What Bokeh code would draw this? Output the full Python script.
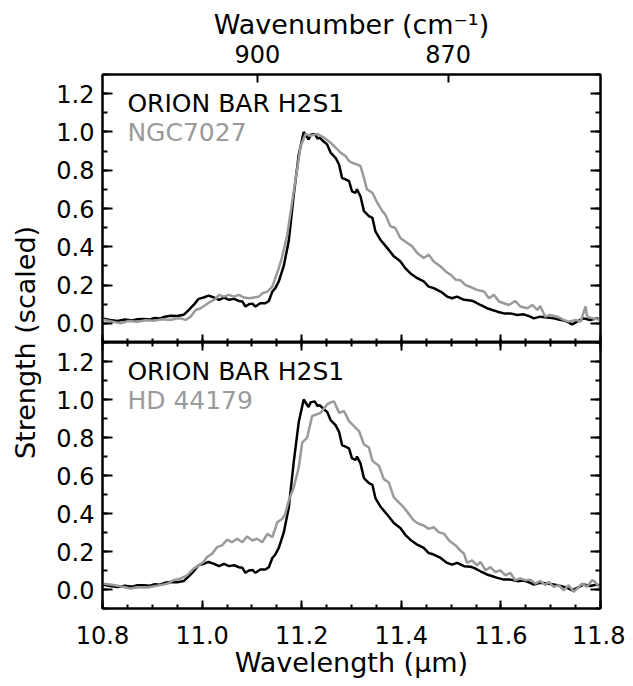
from math import pi
from bokeh.plotting import figure
from bokeh.layouts import row, column
from bokeh.models import (Range1d, LinearAxis, FixedTicker, PrintfTickFormatter,
                          CustomJSTickFormatter, Label)
from bokeh.embed import file_html
from bokeh.resources import INLINE

# ---------------- data ----------------
ORION_WL = [10.800, 10.815, 10.830, 10.845, 10.860, 10.870, 10.883, 10.895, 10.905, 10.915,
            10.925, 10.937, 10.950, 10.963, 10.970, 10.983, 10.993, 11.003, 11.013, 11.024,
            11.034, 11.044, 11.054, 11.064, 11.074, 11.081, 11.087, 11.094, 11.101, 11.107,
            11.117, 11.127, 11.134, 11.141, 11.147, 11.154, 11.164, 11.174, 11.184, 11.194,
            11.204, 11.210, 11.214, 11.218, 11.226, 11.232, 11.236, 11.244, 11.251, 11.258,
            11.268, 11.275, 11.281, 11.288, 11.295, 11.301, 11.308, 11.311, 11.318, 11.325,
            11.335, 11.342, 11.348, 11.358, 11.372, 11.385, 11.398, 11.408, 11.418, 11.432,
            11.445, 11.455, 11.465, 11.479, 11.492, 11.502, 11.512, 11.526, 11.539, 11.546,
            11.559, 11.572, 11.583, 11.593, 11.606, 11.619, 11.633, 11.646, 11.659, 11.666,
            11.679, 11.693, 11.706, 11.720, 11.733, 11.743, 11.753, 11.766, 11.779, 11.793, 11.800]
ORION_S = [0.026, 0.018, 0.013, 0.020, 0.015, 0.022, 0.023, 0.020, 0.028, 0.025,
           0.035, 0.040, 0.038, 0.045, 0.061, 0.096, 0.128, 0.135, 0.145, 0.135,
           0.123, 0.135, 0.123, 0.128, 0.117, 0.114, 0.088, 0.100, 0.103, 0.088,
           0.105, 0.105, 0.117, 0.166, 0.184, 0.219, 0.300, 0.430, 0.670, 0.880,
           1.000, 0.975, 0.960, 0.985, 0.990, 0.965, 0.970, 0.950, 0.935, 0.892,
           0.865, 0.830, 0.760, 0.752, 0.743, 0.690, 0.682, 0.700, 0.664, 0.586,
           0.560, 0.551, 0.481, 0.437, 0.393, 0.350, 0.324, 0.288, 0.262, 0.236,
           0.219, 0.192, 0.184, 0.166, 0.140, 0.131, 0.140, 0.123, 0.120, 0.114,
           0.096, 0.079, 0.070, 0.061, 0.052, 0.052, 0.044, 0.047, 0.035, 0.026,
           0.035, 0.031, 0.026, 0.018, 0.009, -0.005, 0.009, 0.026, 0.018, 0.026, 0.018]

NGC_WL = [10.800, 10.818, 10.836, 10.852, 10.870, 10.887, 10.903, 10.920, 10.937, 10.950,
          10.957, 10.967, 10.977, 10.987, 10.997, 11.007, 11.017, 11.027, 11.034, 11.044,
          11.054, 11.064, 11.074, 11.084, 11.094, 11.104, 11.114, 11.121, 11.131, 11.141,
          11.147, 11.154, 11.160, 11.171, 11.184, 11.198, 11.208, 11.218, 11.231, 11.245,
          11.258, 11.268, 11.278, 11.288, 11.295, 11.301, 11.311, 11.318, 11.325, 11.331,
          11.342, 11.352, 11.362, 11.368, 11.378, 11.388, 11.398, 11.412, 11.422, 11.432,
          11.445, 11.455, 11.465, 11.479, 11.489, 11.499, 11.509, 11.519, 11.529, 11.539,
          11.552, 11.566, 11.576, 11.586, 11.596, 11.606, 11.616, 11.629, 11.639, 11.653,
          11.663, 11.673, 11.679, 11.689, 11.699, 11.713, 11.726, 11.736, 11.750, 11.760,
          11.770, 11.773, 11.785, 11.800]
NGC_S = [0.020, 0.010, 0.000, 0.012, 0.008, 0.016, 0.013, 0.021, 0.018, 0.026,
         0.026, 0.018, 0.035, 0.070, 0.079, 0.096, 0.114, 0.128, 0.149, 0.140,
         0.149, 0.140, 0.149, 0.135, 0.131, 0.135, 0.140, 0.157, 0.166, 0.192,
         0.236, 0.288, 0.340, 0.463, 0.690, 0.927, 0.990, 0.980, 0.990, 0.970,
         0.944, 0.918, 0.892, 0.874, 0.848, 0.839, 0.830, 0.822, 0.760, 0.700,
         0.682, 0.629, 0.586, 0.568, 0.507, 0.498, 0.446, 0.420, 0.402, 0.367,
         0.341, 0.359, 0.323, 0.297, 0.271, 0.254, 0.228, 0.225, 0.200, 0.190,
         0.175, 0.166, 0.131, 0.149, 0.114, 0.105, 0.096, 0.117, 0.088, 0.079,
         0.096, 0.070, 0.091, 0.035, 0.044, 0.035, 0.018, 0.009, 0.018, 0.009,
         0.088, 0.035, 0.026, 0.018]

HD_WL = [10.800, 10.818, 10.836, 10.856, 10.870, 10.890, 10.916, 10.930, 10.943, 10.957,
         10.970, 10.983, 10.993, 11.003, 11.010, 11.020, 11.030, 11.040, 11.050, 11.060,
         11.070, 11.081, 11.090, 11.101, 11.110, 11.121, 11.131, 11.141, 11.151, 11.161,
         11.167, 11.174, 11.184, 11.194, 11.201, 11.211, 11.221, 11.238, 11.251, 11.258,
         11.265, 11.275, 11.285, 11.295, 11.305, 11.315, 11.325, 11.335, 11.342, 11.355,
         11.365, 11.375, 11.385, 11.395, 11.405, 11.415, 11.425, 11.435, 11.445, 11.455,
         11.465, 11.475, 11.486, 11.496, 11.509, 11.519, 11.526, 11.532, 11.542, 11.552,
         11.559, 11.569, 11.579, 11.589, 11.599, 11.609, 11.619, 11.629, 11.639, 11.649,
         11.659, 11.669, 11.679, 11.689, 11.696, 11.706, 11.716, 11.726, 11.736, 11.746,
         11.753, 11.763, 11.773, 11.783, 11.789, 11.800]
HD_S = [0.031, 0.025, 0.017, 0.005, 0.012, 0.010, 0.023, 0.030, 0.049, 0.058,
        0.075, 0.110, 0.127, 0.145, 0.171, 0.188, 0.223, 0.232, 0.262, 0.249,
        0.267, 0.249, 0.279, 0.258, 0.267, 0.249, 0.293, 0.275, 0.354, 0.372,
        0.398, 0.468, 0.537, 0.642, 0.773, 0.800, 0.913, 0.930, 0.974, 0.985,
        0.990, 0.930, 0.939, 0.886, 0.860, 0.834, 0.764, 0.747, 0.677, 0.651,
        0.581, 0.563, 0.485, 0.459, 0.432, 0.398, 0.363, 0.346, 0.337, 0.319,
        0.328, 0.302, 0.293, 0.258, 0.232, 0.205, 0.188, 0.140, 0.153, 0.127,
        0.145, 0.101, 0.118, 0.092, 0.101, 0.075, 0.087, 0.049, 0.058, 0.049,
        0.052, 0.031, 0.045, 0.023, 0.040, 0.014, 0.023, -0.004, 0.023, -0.012,
        0.005, 0.031, 0.014, 0.049, 0.040, 0.005]

X_TICKS = [10.8, 11.0, 11.2, 11.4, 11.6, 11.8]
Y_TICKS = [0.0, 0.2, 0.4, 0.6, 0.8, 1.0, 1.2]
WAVENUMBER_TICKS = [900, 870]

# ---------------- style ----------------
FONT = "DejaVu Sans"
FS = "24px"       # tick labels
FS_TEXT = "25px"  # in-panel labels
FS_TITLE = "27px" # axis titles
GREY = "#9a9a9a"
X_MINOR = [round(10.8 + 0.05 * i, 2) for i in range(21)]
Y_MINOR = [round(-0.1 + 0.1 * i, 1) for i in range(15)]


def style_axis(ax, major, minor, show_labels):
    ax.major_tick_in = major
    ax.major_tick_out = 0
    ax.minor_tick_in = minor
    ax.minor_tick_out = 0
    ax.major_tick_line_width = 2
    ax.minor_tick_line_width = 2
    ax.axis_line_width = 2
    ax.major_tick_line_color = "black"
    ax.minor_tick_line_color = "black"
    ax.axis_line_color = "black"
    ax.major_label_text_font = FONT
    ax.major_label_text_color = "black"
    ax.axis_label_text_font = FONT
    ax.axis_label_text_font_size = FS_TITLE
    ax.axis_label_text_font_style = "normal"
    ax.axis_label_text_color = "black"
    if show_labels:
        ax.major_label_text_font_size = FS
    else:
        ax.major_label_text_font_size = "0px"
        ax.major_label_standoff = 0
        ax.formatter = CustomJSTickFormatter(code="return '';")


def x_ticker():
    return FixedTicker(ticks=X_TICKS, minor_ticks=X_MINOR)


def y_ticker():
    return FixedTicker(ticks=Y_TICKS, minor_ticks=Y_MINOR)


def make_panel(height, top, grey_wl, grey_s, grey_name):
    p = figure(width=577, height=height, x_range=Range1d(10.8, 11.8),
               y_range=Range1d(-0.1, 1.3), x_axis_type=None, y_axis_type=None,
               toolbar_location=None, output_backend="svg",
               min_border_left=54, min_border_right=25,
               min_border_top=74 if top else 0, min_border_bottom=0 if top else 76)
    p.outline_line_color = "black"
    p.outline_line_width = 2
    p.background_fill_color = "white"
    p.border_fill_color = "white"

    left = LinearAxis(ticker=y_ticker(), formatter=PrintfTickFormatter(format="%.1f"))
    style_axis(left, 10, 5, True)
    left.major_label_standoff = 8
    p.add_layout(left, "left")

    right = LinearAxis(ticker=y_ticker())
    style_axis(right, 10, 5, False)
    p.add_layout(right, "right")

    if top:
        wn = LinearAxis(ticker=FixedTicker(ticks=[1e4 / w for w in WAVENUMBER_TICKS], minor_ticks=[]),
                        formatter=CustomJSTickFormatter(code="return Math.round(10000 / tick).toString();"))
        style_axis(wn, 8, 0, True)
        wn.axis_label = "Wavenumber (cm\u207b\u00b9)"
        wn.major_label_standoff = 12
        wn.axis_label_standoff = 2
        p.add_layout(wn, "above")
        below = LinearAxis(ticker=x_ticker())
        style_axis(below, 8, 4, False)
        p.add_layout(below, "below")
    else:
        above = LinearAxis(ticker=x_ticker())
        style_axis(above, 8, 4, False)
        p.add_layout(above, "above")
        below = LinearAxis(ticker=x_ticker(), formatter=PrintfTickFormatter(format="%.1f"))
        style_axis(below, 8, 4, True)
        below.major_label_standoff = 17
        below.axis_label = "Wavelength (\u03bcm)"
        below.axis_label_standoff = 0
        p.add_layout(below, "below")

    p.line(ORION_WL, ORION_S, line_color="black", line_width=2.5)
    p.line(grey_wl, grey_s, line_color=GREY, line_width=2.5)

    p.add_layout(Label(x=10.85, y=1.15, text="ORION BAR H2S1", text_font=FONT,
                       text_font_size=FS_TEXT, text_color="black", text_baseline="alphabetic"))
    p.add_layout(Label(x=10.85, y=0.995, text=grey_name, text_font=FONT,
                       text_font_size=FS_TEXT, text_color=GREY, text_baseline="alphabetic"))
    return p


p1 = make_panel(342, True, NGC_WL, NGC_S, "NGC7027")
p2 = make_panel(342, False, HD_WL, HD_S, "HD 44179")

lab = figure(width=48, height=684, x_range=Range1d(0, 48), y_range=Range1d(0, 684),
             x_axis_type=None, y_axis_type=None, toolbar_location=None,
             output_backend="svg", min_border=0)
lab.outline_line_color = None
lab.add_layout(Label(x=25, y=342, text="Strength (scaled)", angle=pi / 2,
                     text_align="center", text_baseline="middle", text_font=FONT,
                     text_font_size=FS_TITLE, text_color="black"))

layout = row(lab, column(p1, p2))
open("out.html", "w").write(file_html(layout, INLINE))
